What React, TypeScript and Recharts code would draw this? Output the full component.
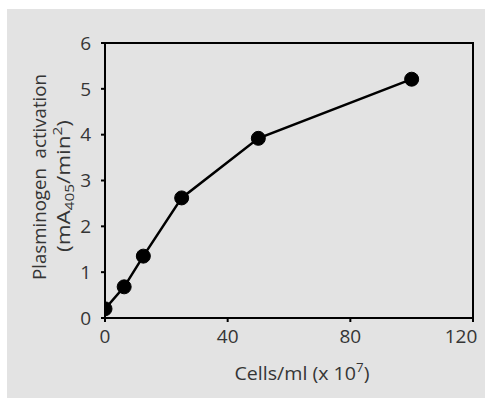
import {
  LineChart,
  Line,
  XAxis,
  YAxis,
  ReferenceArea,
  Label,
} from 'recharts'

// Cells/ml (x 10^7) vs plasminogen activation (mA405/min^2)
const CELLS = [0, 6.25, 12.5, 25, 50, 100]
const ACTIVATION = [0.2, 0.68, 1.35, 2.62, 3.92, 5.21]
const X_TICKS = [0, 40, 80, 120]
const Y_TICKS = [0, 1, 2, 3, 4, 5, 6]

const data = CELLS.map((x, i) => ({ x, y: ACTIVATION[i] }))

const FONT = '"Open Sans", "DejaVu Sans", sans-serif'
const TEXT = '#353535'
const BG = '#e3e3e3'
const SIZE = 19

// two-line rotated y title; baseline sits on the given x after rotation
function YTitle() {
  return (
    <g fontFamily={FONT} fill={TEXT} fontSize={SIZE}>
      <text
        x={46}
        y={177}
        transform="rotate(-90 46 177)"
        textAnchor="middle"
        textLength={206}
        lengthAdjust="spacingAndGlyphs"
        style={{ whiteSpace: 'pre' }}
      >
        {'Plasminogen  activation'}
      </text>
      <text
        x={70}
        y={186}
        transform="rotate(-90 70 186)"
        textAnchor="middle"
        textLength={132}
        lengthAdjust="spacingAndGlyphs"
      >
        (mA
        <tspan fontSize={13} dy={4}>405</tspan>
        <tspan dy={-4}>/min</tspan>
        <tspan fontSize={13} dy={-8}>2</tspan>
        <tspan dy={8}>)</tspan>
      </text>
    </g>
  )
}

function XTitle() {
  return (
    <text
      x={302}
      y={380}
      textAnchor="middle"
      fontFamily={FONT}
      fill={TEXT}
      fontSize={SIZE}
      textLength={135}
      lengthAdjust="spacingAndGlyphs"
    >
      Cells/ml (x 10
      <tspan fontSize={13} dy={-8}>7</tspan>
      <tspan dy={8}>)</tspan>
    </text>
  )
}

// last x tick label sits left of its tick, as in the reference
function XTick(props: any) {
  const { x, y, payload } = props
  const shift = payload.value === 120 ? -12 : 0
  return (
    <text
      x={x + shift}
      y={y}
      dy={17}
      textAnchor="middle"
      fill={TEXT}
      fontSize={SIZE}
      fontFamily={FONT}
    >
      {payload.value}
    </text>
  )
}

export default function App() {
  return (
    <div
      style={{
        position: 'fixed',
        left: 0,
        top: 0,
        width: 485,
        height: 398,
        background: '#ffffff',
        overflow: 'hidden',
      }}
    >
      <div
        style={{
          position: 'absolute',
          left: 7,
          top: 9,
          width: 500,
          height: 400,
          background: BG,
        }}
      />
      <div style={{ position: 'absolute', left: 0, top: 0 }}>
        <LineChart
          width={485}
          height={398}
          data={data}
          margin={{ top: 43, right: 12, bottom: 50, left: 45 }}
        >
          <XAxis
            dataKey="x"
            type="number"
            domain={[0, 120]}
            ticks={X_TICKS}
            allowDataOverflow
            height={30}
            tickSize={4}
            tickMargin={4}
            tick={XTick}
            axisLine={{ stroke: '#000', strokeWidth: 2 }}
            tickLine={{ stroke: '#000', strokeWidth: 2 }}
          >
            <Label content={XTitle} />
          </XAxis>
          <YAxis
            type="number"
            domain={[0, 6]}
            ticks={Y_TICKS}
            width={60}
            tickSize={4}
            tickMargin={10}
            tick={{ fill: TEXT, fontSize: SIZE, fontFamily: FONT }}
            axisLine={{ stroke: '#000', strokeWidth: 2 }}
            tickLine={{ stroke: '#000', strokeWidth: 2 }}
          >
            <Label content={YTitle} />
          </YAxis>
          <ReferenceArea
            x1={0}
            x2={120}
            y1={0}
            y2={6}
            fill="none"
            stroke="#000"
            strokeWidth={2}
            fillOpacity={0}
            strokeOpacity={1}
          />
          <Line
            dataKey="y"
            stroke="#000"
            strokeWidth={2.5}
            dot={{ r: 7, fill: '#000', stroke: '#000', strokeWidth: 1 }}
            isAnimationActive={false}
          />
        </LineChart>
      </div>
    </div>
  )
}
